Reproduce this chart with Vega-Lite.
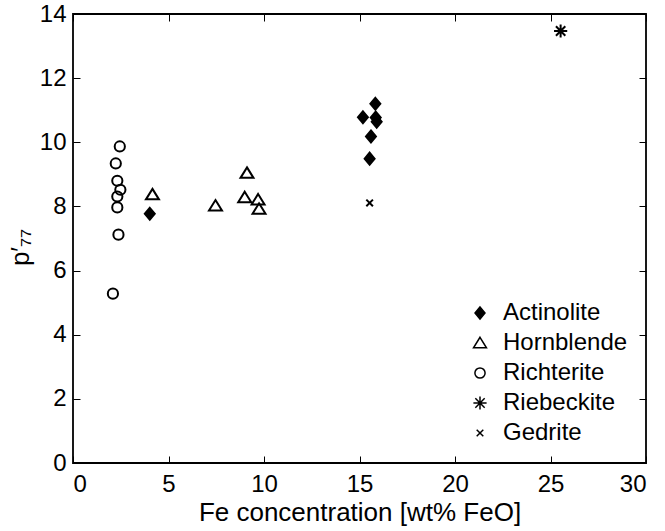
{
  "$schema": "https://vega.github.io/schema/vega-lite/v6.json",
  "width": 573,
  "height": 449,
  "autosize": "none",
  "padding": {"left": 73, "top": 14, "right": 19, "bottom": 68},
  "config": {
    "font": "Liberation Sans",
    "view": {"stroke": "black", "strokeWidth": 1.8},
    "axis": {
      "domain": false,
      "grid": false,
      "tickSize": -7,
      "tickColor": "black",
      "tickWidth": 1,
      "labelFontSize": 24,
      "labelColor": "black",
      "titleFontSize": 26,
      "titleFontWeight": "normal",
      "titleColor": "black"
    },
    "legend": {
      "labelFontSize": 24,
      "labelColor": "black",
      "symbolSize": 144,
      "rowPadding": 6,
      "labelOffset": 11,
      "padding": 0
    }
  },
  "data": {
    "values": [
      {"mineral": "Actinolite", "fe": 4.02, "p": 7.77},
      {"mineral": "Actinolite", "fe": 15.83, "p": 11.2},
      {"mineral": "Actinolite", "fe": 15.18, "p": 10.78},
      {"mineral": "Actinolite", "fe": 15.85, "p": 10.77},
      {"mineral": "Actinolite", "fe": 15.9, "p": 10.64},
      {"mineral": "Actinolite", "fe": 15.6, "p": 10.18},
      {"mineral": "Actinolite", "fe": 15.53, "p": 9.49},
      {"mineral": "Hornblende", "fe": 4.16, "p": 8.37},
      {"mineral": "Hornblende", "fe": 7.46, "p": 8.02},
      {"mineral": "Hornblende", "fe": 9.11, "p": 9.04},
      {"mineral": "Hornblende", "fe": 8.99, "p": 8.28},
      {"mineral": "Hornblende", "fe": 9.69, "p": 8.21},
      {"mineral": "Hornblende", "fe": 9.74, "p": 7.92},
      {"mineral": "Richterite", "fe": 2.45, "p": 9.87},
      {"mineral": "Richterite", "fe": 2.24, "p": 9.34},
      {"mineral": "Richterite", "fe": 2.32, "p": 8.8},
      {"mineral": "Richterite", "fe": 2.48, "p": 8.52},
      {"mineral": "Richterite", "fe": 2.32, "p": 8.31},
      {"mineral": "Richterite", "fe": 2.32, "p": 7.97},
      {"mineral": "Richterite", "fe": 2.38, "p": 7.12},
      {"mineral": "Richterite", "fe": 2.09, "p": 5.28},
      {"mineral": "Riebeckite", "fe": 25.53, "p": 13.47},
      {"mineral": "Gedrite", "fe": 15.53, "p": 8.11}
    ]
  },
  "layer": [
    {
      "mark": {"type": "point", "stroke": "black", "strokeWidth": 2, "opacity": 1},
      "encoding": {
        "x": {
          "field": "fe", "type": "quantitative",
          "scale": {"domain": [0, 30], "nice": false, "zero": false},
          "axis": {"title": "Fe concentration [wt% FeO]", "values": [0, 5, 10, 15, 20, 25, 30], "labelPadding": 16, "titlePadding": 3}
        },
        "y": {
          "field": "p", "type": "quantitative",
          "scale": {"domain": [0, 14], "nice": false, "zero": false},
          "axis": {"title": "p′₇₇", "values": [0, 2, 4, 6, 8, 10, 12, 14], "labelPadding": 14, "titlePadding": 6, "titleY": 233}
        },
        "shape": {
          "field": "mineral", "type": "nominal",
          "scale": {
            "domain": ["Actinolite", "Hornblende", "Richterite", "Riebeckite", "Gedrite"],
            "range": [
              "M0,-1L0.83,0L0,1L-0.83,0Z",
              "M0,-0.95L1.08,0.8L-1.08,0.8Z",
              "M0.85,0A0.85,0.85 0 1,1 -0.85,0A0.85,0.85 0 1,1 0.85,0Z",
              "M0,-1.1L0,1.1M-1.1,0L1.1,0M-0.78,-0.78L0.78,0.78M-0.78,0.78L0.78,-0.78",
              "M-0.55,-0.55L0.55,0.55M-0.55,0.55L0.55,-0.55"
            ]
          },
          "legend": {
            "title": null, "orient": "none", "legendX": 395, "legendY": 287,
            "encode": {"symbols": {"update": {"stroke": {"value": "black"}, "strokeWidth": {"value": 2}}}}
          }
        },
        "fill": {
          "field": "mineral", "type": "nominal",
          "scale": {
            "domain": ["Actinolite", "Hornblende", "Richterite", "Riebeckite", "Gedrite"],
            "range": ["black", "transparent", "transparent", "transparent", "transparent"]
          },
          "legend": {
            "title": null, "orient": "none", "legendX": 395, "legendY": 287,
            "encode": {"symbols": {"update": {"stroke": {"value": "black"}, "strokeWidth": {"value": 2}}}}
          }
        },
        "size": {"value": 144}
      }
    },
    {
      "mark": {"type": "point", "opacity": 0},
      "encoding": {
        "x": {
          "field": "fe", "type": "quantitative",
          "scale": {"domain": [0, 30], "nice": false, "zero": false},
          "axis": {"orient": "top", "labels": false, "title": null, "values": [0, 5, 10, 15, 20, 25, 30]}
        },
        "y": {
          "field": "p", "type": "quantitative",
          "scale": {"domain": [0, 14], "nice": false, "zero": false},
          "axis": {"orient": "right", "labels": false, "title": null, "values": [0, 2, 4, 6, 8, 10, 12, 14]}
        }
      }
    }
  ],
  "resolve": {"axis": {"x": "independent", "y": "independent"}}
}
